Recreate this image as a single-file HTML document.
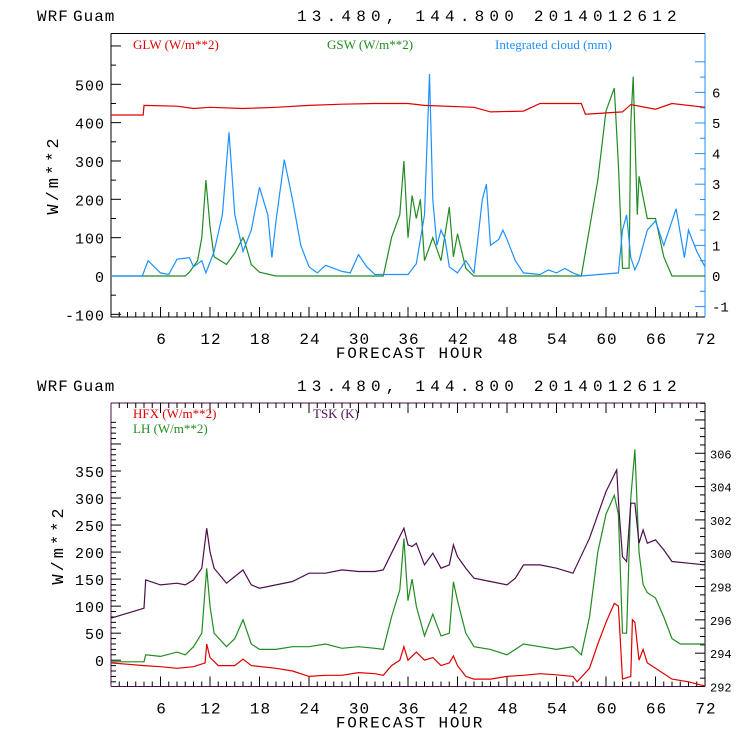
<!DOCTYPE html>
<html><head><meta charset="utf-8"><style>
body{margin:0;background:#fff;}
</style></head><body>
<svg id="s" width="740" height="740" xmlns="http://www.w3.org/2000/svg"></svg>
<script>
// ---- Top chart data ----
const hoursGLW=[0,3.9,4,8,10,12,16,20,24,28,32,36,38,44,46,50,52,57,57.5,62,63,66,68,72];
const glw=[420,420,445,443,437,440,437,440,445,448,450,450,445,440,428,430,450,450,422,428,447,435,450,440];
const hoursGSW=[0,9,9.5,10.5,11,11.5,12,12.5,14,15,16,16.2,17,18,20,33,34,35,35.5,36,36.5,37,37.5,38,39,40,41,41.5,42,43,44,57,59,60,61,61.5,62,62.8,63,63.3,63.8,64,65,66,67,68,72];
const gsw=[0,0,10,40,100,250,130,50,30,60,100,90,30,10,0,0,100,160,300,100,210,150,200,40,100,40,180,50,110,20,0,0,250,430,490,290,20,20,400,520,160,260,150,150,50,0,0];
const hoursCloud=[0,3.8,4.5,6,7,8,9.5,10,11,11.5,12.5,13.5,14.3,15,16,17,18,19,19.5,20,21,22,23,24,25,26,28,29,30,31,32,36,37,38,38.6,39,39.5,40,40.5,41,42,43,44,45,45.5,46,47,47.5,48,49,50,52,53,54,55,56,57,61.5,62,62.5,63,63.5,64,65,66,67,68,68.5,69.5,70,71,72];
const cloud=[0,0,0.5,0.1,0.05,0.55,0.6,0.3,0.5,0.1,0.8,2,4.7,2,0.8,1.5,2.9,2,0.6,1.8,3.8,2.5,1,0.3,0.1,0.35,0.15,0.1,0.7,0.3,0.05,0.05,0.4,2,6.6,2.5,1,1.5,1.2,0.3,0.1,0.5,0.1,2.5,3,1,1.2,1.5,1.2,0.5,0.1,0.05,0.2,0.1,0.25,0.1,0,0.1,1.5,2,0.6,0.2,0.5,1.5,1.8,1,1.8,2.2,0.6,1.5,0.8,0.3];
const topLeftTicks=[-100,0,100,200,300,400,500];
const topRightTicks=[-1,0,1,2,3,4,5,6];
const xTicks=[6,12,18,24,30,36,42,48,54,60,66,72];
// ---- Bottom chart data ----
const hoursTSK=[0,4,4.2,6,8,9,10,11,11.6,12,12.5,14,15,16,17,18,20,22,24,26,28,30,32,33,34,35.5,36,36.5,37,38,39,40,41,41.5,42,43,44,46,48,49,50,52,54,56,58,60,61.3,61.6,62,62.5,63,63.5,64,64.5,65,66,67,68,70,72];
const tsk=[296.1,296.7,298.4,298.1,298.2,298.1,298.4,299.1,301.5,300.1,299.1,298.2,298.6,299,298.1,297.9,298.1,298.3,298.8,298.8,299,298.9,298.9,299,300,301.5,300.5,300.4,300.6,299.3,300,299.1,299.3,300.5,299.8,299.1,298.5,298.3,298.1,298.5,299.3,299.3,299.1,298.8,300.9,303.7,305,302.4,299.8,299.5,303,303,300.6,301.4,300.6,300.8,300.2,299.5,299.4,299.3];
const hoursLH=[0,4,4.2,6,8,9,10,11,11.6,12,12.5,14,15,16,17,18,20,22,24,26,28,30,32,33,34,35,35.5,36,36.5,37,38,39,40,41,41.5,42,43,44,46,48,49,50,52,54,56,57,58,59,60,61,61.5,62,62.5,63,63.5,64,64.5,65,66,67,68,69,70,72];
const lh=[-3,-3,10,7,15,10,25,50,170,100,50,25,40,75,30,20,20,25,25,30,22,25,22,20,80,130,225,110,150,100,45,85,45,50,145,110,50,25,20,10,20,30,25,20,25,10,80,200,270,305,270,50,50,300,390,200,140,125,115,80,40,30,30,30];
const hoursHFX=[0,4,6,8,10,11.4,11.6,12,13,15,16,17,20,22,24,26,28,30,32,33,34,35,35.5,36,37,38,39,40,41,41.5,42,43,44,46,48,50,52,54,56,56.5,58,59,60,61,61.5,62,63,63.2,63.5,64,64.5,65,66,68,70,72];
const hfx=[-5,-10,-12,-15,-12,-5,30,5,-10,-10,2,-10,-15,-20,-30,-28,-28,-23,-25,-28,-10,0,25,0,15,0,5,-10,-5,8,-10,-30,-35,-35,-30,-28,-25,-27,-30,-40,-15,30,70,105,100,-35,-30,75,70,0,20,-5,-15,-35,-40,-48];
const botLeftTicks=[0,50,100,150,200,250,300,350];
const botRightTicks=[292,294,296,298,300,302,304,306];

const S=document.getElementById('s');
const NS='http://www.w3.org/2000/svg';
const MONO='font-family:"Liberation Mono",monospace;';
function mk(tag,attrs,parent){const e=document.createElementNS(NS,tag);for(const k in attrs)e.setAttribute(k,attrs[k]);(parent||S).appendChild(e);return e;}
const X0=111,X1=705;
const xs=h=>X0+(X1-X0)*h/72;

function frame(top,bot,leftColor,rightColor,name){
  const g=mk('g',{});
  
  
  mk('line',{x1:X0,y1:top,x2:X1,y2:top,stroke:leftColor},g);
  mk('line',{x1:X0,y1:bot,x2:X1,y2:bot,stroke:leftColor},g);
  mk('line',{x1:X0,y1:top,x2:X0,y2:bot,stroke:leftColor},g);
  mk('line',{x1:X1,y1:top,x2:X1,y2:bot,stroke:rightColor},g);
  for(let h=1;h<72;h++){const big=h%6==0;mk('line',{x1:xs(h),y1:bot,x2:xs(h),y2:bot-(big?10:5),stroke:'#000'},g);}
  const xl=mk('g',{});
  
  
  xTicks.forEach(h=>{const t=mk('text',{x:xs(h)+1,y:bot+27,'font-size':16,'text-anchor':'middle',style:MONO+'letter-spacing:1px'},xl);t.textContent=h;});
  const xt=mk('text',{x:410,y:bot+41,'font-size':16,'text-anchor':'middle',style:MONO+'letter-spacing:1.8px'});
  xt.textContent='FORECAST HOUR';
  
  
}
function title(y,name){
  const a=mk('text',{x:37,y:y,'font-size':16,style:MONO+'letter-spacing:1px'});a.textContent='WRF';
  
  const c=mk('text',{x:73,y:y,'font-size':16,style:MONO+'letter-spacing:1px'});c.textContent='Guam';
  
  const b=mk('text',{x:297,y:y,'font-size':16,style:MONO+'letter-spacing:5.2px'});b.textContent='13.480, 144.800  2014012612';
  
}
function series(hs,vs,ys,color,name){
  let d='';hs.forEach((h,i)=>{d+=(i?'L':'M')+xs(h).toFixed(1)+','+ys(vs[i]).toFixed(1);});
  const p=mk('path',{d:d,fill:'none',stroke:color,'stroke-width':1.2});
  
}
function legend(x,y,txt,color,name){
  const t=mk('text',{x:x,y:y,'font-size':13,fill:color,style:'font-family:"Liberation Serif",serif;'});t.textContent=txt;
  
}
function ytitle(x,y,name){
  const t=mk('text',{x:x,y:y,'font-size':17,transform:`rotate(-90 ${x} ${y})`,'text-anchor':'middle',style:MONO+'letter-spacing:3px'});t.textContent='W/m**2';
  
}

// ===== Top chart =====
title(21,'top');
const T0=33.5,T1=317;
const yTL=v=>276-v*0.3834;
const yTR=v=>276-v*30.6;
frame(T0,T1,'#000','#1e90ff','top');
for(let v=-100;v<=650;v+=50){const y=yTL(v);if(y<T0||y>T1)continue;mk('line',{x1:X0,y1:y,x2:X0+(v%100==0?10:5),y2:y,stroke:'#000'});}
for(let v=-1.5;v<=7;v+=0.5){const y=yTR(v);if(y<T0||y>T1)continue;mk('line',{x1:X1,y1:y,x2:X1-(v%1==0?10:5),y2:y,stroke:'#1e90ff'});}
topLeftTicks.forEach(v=>{const t=mk('text',{x:105,y:yTL(v)+6,'font-size':15,'text-anchor':'end',style:MONO+'letter-spacing:1px'});t.textContent=v;});
topRightTicks.forEach(v=>{const t=mk('text',{x:712,y:yTR(v)+5,'font-size':14,style:MONO});t.textContent=v;});
ytitle(58,175,'top-y-axis-title');
legend(133,49,'GLW (W/m**2)','#e00000','legend-glw');
legend(327,49,'GSW (W/m**2)','#228b22','legend-gsw');
legend(495,49,'Integrated cloud (mm)','#1e90ff','legend-cloud');
series(hoursGSW,gsw,yTL,'#228b22','gsw-line');
series(hoursCloud,cloud,yTR,'#1e90ff','cloud-line');
series(hoursGLW,glw,yTL,'#e00000','glw-line');

// ===== Bottom chart =====
title(391,'bottom');
const B0=403,B1=686.5;
const yBL=v=>660.2-v*0.5406;
const yBR=v=>686.5-(v-292)*16.66;
frame(B0,B1,'#4b0f4b','#4b0f4b','bottom');
mk('line',{x1:X1,y1:B0,x2:X1,y2:B1,stroke:'#000'});
for(let v=-40;v<=440;v+=10){const y=yBL(v);if(y<B0||y>B1)continue;mk('line',{x1:X0,y1:y,x2:X0+(v%50==0?10:5),y2:y,stroke:'#000'});}
for(let v=292;v<=309;v+=0.5){const y=yBR(v);if(y<B0||y>B1)continue;mk('line',{x1:X1,y1:y,x2:X1-(v%2==0?10:5),y2:y,stroke:'#000'});}
for(let h=1;h<72;h++){mk('line',{x1:xs(h),y1:B0,x2:xs(h),y2:B0+(h%6==0?10:5),stroke:'#000'});}
botLeftTicks.forEach(v=>{const t=mk('text',{x:105,y:yBL(v)+6,'font-size':15,'text-anchor':'end',style:MONO+'letter-spacing:1px'});t.textContent=v;});
botRightTicks.forEach(v=>{const t=mk('text',{x:710,y:yBR(v)+5,'font-size':12,style:MONO});t.textContent=v;});
ytitle(63,545,'bottom-y-axis-title');
legend(133,418,'HFX (W/m**2)','#e00000','legend-hfx');
legend(133,433,'LH  (W/m**2)','#228b22','legend-lh');
legend(313,418,'TSK (K)','#4b0f4b','legend-tsk');
series(hoursLH,lh,yBL,'#228b22','lh-line');
series(hoursHFX,hfx,yBL,'#e00000','hfx-line');
series(hoursTSK,tsk,yBR,'#4b0f4b','tsk-line');
</script>
</body></html>
